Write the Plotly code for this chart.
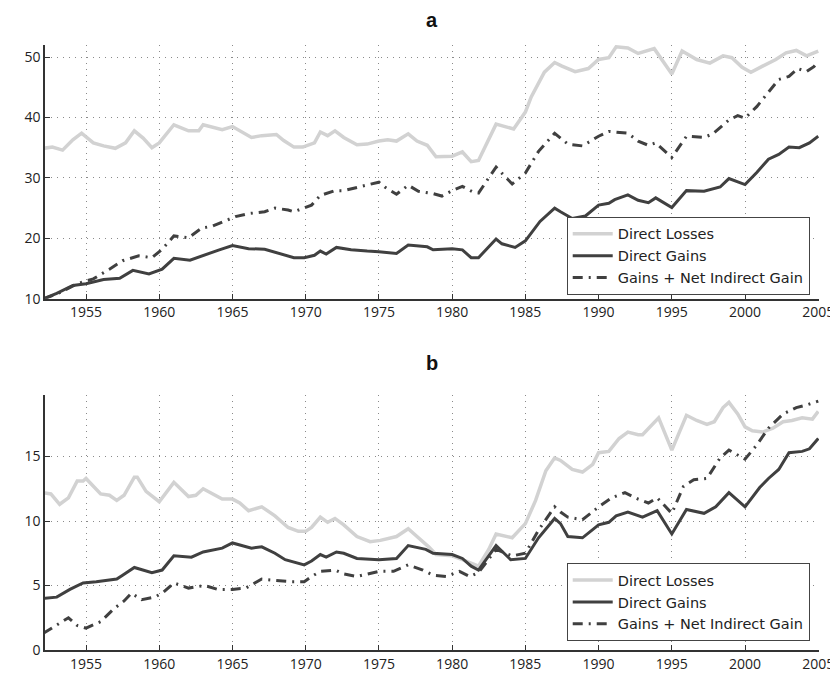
import plotly.graph_objects as go

# ---------------- Panel a ----------------
a_loss_years = [1952.1, 1952.7, 1953.4, 1954.1, 1954.7, 1955.5, 1956.2, 1957.0, 1957.7, 1958.3, 1958.9, 1959.5,
                1960.0, 1961.0, 1962.0, 1962.7, 1963.0, 1964.3, 1965.0, 1965.6, 1966.3, 1967.0, 1968.0, 1968.5,
                1969.2, 1969.8, 1970.6, 1971.0, 1971.5, 1972.0, 1972.6, 1973.5, 1974.2, 1975.0, 1975.6, 1976.2,
                1977.0, 1977.6, 1978.3, 1978.9, 1980.0, 1980.7, 1981.3, 1981.8, 1983.0, 1984.2, 1985.0, 1985.4,
                1986.3, 1987.0, 1987.5, 1988.4, 1989.3, 1990.0, 1990.7, 1991.2, 1992.0, 1992.7, 1993.8, 1995.0,
                1995.7, 1996.7, 1997.6, 1998.5, 1999.1, 1999.8, 2000.4, 2001.2, 2002.1, 2002.8, 2003.5, 2004.2,
                2005.0]
a_loss = [34.9, 35.1, 34.6, 36.3, 37.4, 35.8, 35.3, 34.9, 35.8, 37.8, 36.6, 35.0,
          35.8, 38.8, 37.8, 37.8, 38.8, 38.0, 38.5, 37.7, 36.7, 37.0, 37.2, 36.2,
          35.1, 35.1, 35.8, 37.6, 37.0, 37.8, 36.7, 35.5, 35.6, 36.1, 36.3, 36.1,
          37.3, 36.1, 35.4, 33.5, 33.6, 34.3, 32.7, 32.9, 38.9, 38.1, 40.9, 43.4,
          47.5, 49.1, 48.5, 47.6, 48.1, 49.6, 49.9, 51.7, 51.5, 50.6, 51.4, 47.2,
          51.0, 49.6, 49.0, 50.2, 49.9, 48.3, 47.5, 48.5, 49.6, 50.7, 51.1, 50.2,
          51.0]

a_gain_years = [1952.1, 1953.0, 1954.1, 1955.0, 1956.2, 1957.3, 1958.2, 1959.3, 1960.2, 1961.0, 1962.1, 1963.2,
                1964.1, 1965.0, 1966.1, 1967.2, 1968.3, 1969.2, 1969.9, 1970.6, 1971.0, 1971.4, 1972.1, 1973.1,
                1974.2, 1975.0, 1976.2, 1977.0, 1978.3, 1978.7, 1980.0, 1980.7, 1981.3, 1981.8, 1983.0, 1983.4,
                1984.3, 1985.0, 1986.0, 1987.0, 1987.4, 1988.2, 1989.1, 1990.0, 1990.7, 1991.1, 1992.0, 1992.7,
                1993.4, 1993.9, 1995.0, 1996.0, 1997.2, 1998.3, 1998.9, 2000.0, 2000.8, 2001.6, 2002.3, 2003.0,
                2003.7, 2004.4, 2005.0]
a_gain = [10.0, 10.9, 12.2, 12.5, 13.2, 13.4, 14.7, 14.1, 14.9, 16.7, 16.4, 17.4,
          18.1, 18.8, 18.3, 18.2, 17.4, 16.8, 16.8, 17.2, 17.9, 17.4, 18.5, 18.1,
          17.9, 17.8, 17.5, 18.9, 18.6, 18.1, 18.3, 18.1, 16.8, 16.8, 19.9, 19.1,
          18.5, 19.6, 22.8, 25.0, 24.4, 23.3, 23.7, 25.5, 25.8, 26.4, 27.2, 26.3,
          25.9, 26.7, 25.1, 27.9, 27.8, 28.5, 29.9, 28.9, 30.9, 33.1, 33.9, 35.1,
          35.0, 35.8, 36.9]

a_net_years = [1952.1, 1953.2, 1954.4, 1955.5, 1956.6, 1957.5, 1958.6, 1959.5, 1960.2, 1961.0, 1962.0, 1962.9,
               1963.6, 1964.4, 1965.2, 1966.1, 1967.2, 1967.9, 1968.8, 1969.2, 1969.9, 1970.4, 1971.0, 1972.0,
               1972.6, 1973.6, 1975.0, 1975.4, 1976.2, 1977.0, 1977.7, 1978.7, 1979.3, 1980.0, 1980.7, 1981.4,
               1981.8, 1983.0, 1984.1, 1985.0, 1985.9, 1987.0, 1987.4, 1987.9, 1988.9, 1990.0, 1990.7, 1991.4,
               1992.0, 1992.7, 1993.4, 1993.9, 1995.0, 1996.0, 1997.2, 1997.8, 1998.9, 1999.5, 2000.0, 2000.8,
               2001.6, 2002.3, 2003.0, 2003.6, 2004.2, 2004.7, 2005.0]
a_net = [10.0, 11.0, 12.5, 13.3, 14.9, 16.3, 17.1, 16.8, 18.2, 20.4, 20.1, 21.7,
         22.0, 22.8, 23.6, 24.1, 24.4, 25.0, 24.7, 24.4, 25.0, 25.5, 27.1, 27.9,
         27.9, 28.5, 29.3, 28.5, 27.3, 28.8, 27.8, 27.4, 27.0, 27.9, 28.6, 27.7,
         27.5, 31.8, 29.0, 30.8, 34.4, 37.4, 36.6, 35.6, 35.3, 36.9, 37.7, 37.6,
         37.4, 36.1, 35.4, 35.8, 33.4, 36.9, 36.7, 37.3, 39.6, 40.3, 39.9, 41.8,
         44.2, 46.3, 46.8, 48.1, 47.6, 48.4, 49.3]

# ---------------- Panel b ----------------
b_loss_years = [1952.1, 1952.6, 1953.2, 1953.8, 1954.4, 1954.8, 1955.0, 1956.0, 1956.6, 1957.1, 1957.6, 1958.3,
                1958.5, 1959.1, 1960.0, 1961.0, 1962.0, 1962.5, 1963.0, 1964.3, 1965.0, 1965.5, 1966.1, 1967.0,
                1967.9, 1968.8, 1969.5, 1970.0, 1970.4, 1971.0, 1971.5, 1972.0, 1972.6, 1973.5, 1974.4, 1975.1,
                1976.2, 1977.0, 1977.6, 1978.4, 1978.9, 1980.0, 1980.7, 1981.4, 1981.8, 1982.5, 1983.0, 1984.1,
                1985.0, 1985.7, 1986.4, 1987.0, 1987.4, 1988.2, 1988.9, 1989.6, 1990.0, 1990.7, 1991.4, 1992.0,
                1992.7, 1993.0, 1994.1, 1995.0, 1996.0, 1996.7, 1997.4, 1997.9, 1998.5, 1998.9, 1999.5, 2000.0,
                2000.5, 2001.2, 2001.9, 2002.6, 2003.2, 2003.9, 2004.6, 2005.0]
b_loss = [12.2, 12.1, 11.3, 11.8, 13.1, 13.1, 13.3, 12.1, 12.0, 11.6, 12.0, 13.4,
          13.4, 12.3, 11.5, 13.0, 11.9, 12.0, 12.5, 11.7, 11.7, 11.4, 10.8, 11.1,
          10.4, 9.5, 9.2, 9.2, 9.5, 10.3, 9.9, 10.2, 9.7, 8.8, 8.4, 8.5,
          8.8, 9.4, 8.8, 8.0, 7.4, 7.3, 7.0, 6.7, 6.5, 7.8, 9.0, 8.7,
          9.8, 11.6, 13.9, 14.9, 14.7, 14.0, 13.8, 14.4, 15.3, 15.4, 16.4, 16.9,
          16.7, 16.7, 18.0, 15.5, 18.2, 17.8, 17.5, 17.7, 18.8, 19.2, 18.3, 17.3,
          17.0, 16.9, 17.2, 17.7, 17.8, 18.0, 17.9, 18.5]

b_gain_years = [1952.1, 1953.0, 1953.9, 1954.8, 1955.7, 1957.1, 1957.5, 1958.3, 1959.5, 1960.2, 1961.0, 1962.2,
                1963.0, 1964.3, 1965.0, 1965.6, 1966.3, 1967.0, 1967.9, 1968.6, 1969.2, 1969.9, 1970.4, 1971.0,
                1971.4, 1972.1, 1972.6, 1973.5, 1975.0, 1976.2, 1977.0, 1978.2, 1978.7, 1980.0, 1980.7, 1981.3,
                1981.8, 1983.0, 1984.0, 1985.0, 1985.9, 1987.0, 1987.4, 1987.9, 1988.9, 1990.0, 1990.7, 1991.2,
                1992.0, 1993.0, 1994.0, 1995.0, 1996.0, 1997.2, 1998.0, 1998.9, 2000.0, 2001.0, 2001.6, 2002.3,
                2003.0, 2003.9, 2004.4, 2005.0]
b_gain = [4.0, 4.1, 4.7, 5.2, 5.3, 5.5, 5.8, 6.4, 6.0, 6.2, 7.3, 7.2,
          7.6, 7.9, 8.3, 8.1, 7.9, 8.0, 7.5, 7.0, 6.8, 6.6, 6.9, 7.4,
          7.2, 7.6, 7.5, 7.1, 7.0, 7.1, 8.1, 7.8, 7.5, 7.4, 7.1, 6.5,
          6.2, 8.1, 7.0, 7.1, 8.7, 10.2, 9.8, 8.8, 8.7, 9.7, 9.9, 10.4,
          10.7, 10.3, 10.8, 9.0, 10.9, 10.6, 11.1, 12.2, 11.1, 12.6, 13.3, 14.0,
          15.3, 15.4, 15.6, 16.4]

b_net_years = [1952.1, 1953.0, 1953.8, 1954.4, 1955.0, 1956.0, 1956.9, 1957.6, 1958.1, 1958.8, 1959.7, 1960.3,
               1961.0, 1962.0, 1963.1, 1964.0, 1965.0, 1965.9, 1967.0, 1967.9, 1969.0, 1969.9, 1970.4, 1971.0,
               1972.0, 1972.6, 1973.5, 1975.0, 1976.0, 1977.0, 1978.0, 1978.7, 1979.6, 1980.5, 1981.2, 1981.8,
               1983.0, 1984.1, 1985.0, 1985.9, 1987.0, 1987.4, 1987.9, 1988.9, 1990.0, 1990.9, 1991.8, 1992.7,
               1993.4, 1994.0, 1995.0, 1995.8, 1996.5, 1997.4, 1998.3, 1998.9, 2000.0, 2000.8, 2001.6, 2002.6,
               2003.5, 2004.2, 2005.0]
b_net = [1.3, 1.9, 2.5, 1.9, 1.7, 2.2, 3.2, 3.8, 4.4, 3.9, 4.1, 4.5,
         5.2, 4.8, 5.0, 4.7, 4.7, 4.8, 5.5, 5.4, 5.3, 5.3, 5.7, 6.1,
         6.2, 5.9, 5.7, 6.1, 6.1, 6.6, 6.2, 5.8, 5.7, 6.1, 5.7, 6.0,
         7.8, 7.3, 7.5, 9.3, 11.1, 10.7, 10.3, 10.1, 11.1, 11.8, 12.2, 11.7,
         11.4, 11.8, 10.6, 12.7, 13.2, 13.3, 14.9, 15.5, 14.8, 15.9, 17.2, 18.3,
         18.8, 19.0, 19.3]

x_ticks = [1955, 1960, 1965, 1970, 1975, 1980, 1985, 1990, 1995, 2000, 2005]
a_ticks = [10, 20, 30, 40, 50]
b_ticks = [0, 5, 10, 15]

names = ["Direct Losses", "Direct Gains", "Gains + Net Indirect Gain"]

LIGHT = "#d2d2d2"
DARK = "#404040"
FONT = "Open Sans, Arial, sans-serif"
LEG_FONT = "DejaVu Sans, Open Sans, sans-serif"

fig = go.Figure()

def add_panel(xa, ya, legend, loss_x, loss_y, gain_x, gain_y, net_x, net_y):
    fig.add_trace(go.Scatter(x=loss_x, y=loss_y, mode="lines", name=names[0],
                             line=dict(color=LIGHT, width=3.5), xaxis=xa, yaxis=ya, legend=legend))
    fig.add_trace(go.Scatter(x=gain_x, y=gain_y, mode="lines", name=names[1],
                             line=dict(color=DARK, width=3), xaxis=xa, yaxis=ya, legend=legend))
    fig.add_trace(go.Scatter(x=net_x, y=net_y, mode="lines", name=names[2],
                             line=dict(color=DARK, width=3, dash="10px,6px,2px,6px"),
                             xaxis=xa, yaxis=ya, legend=legend))

add_panel("x", "y", "legend", a_loss_years, a_loss, a_gain_years, a_gain, a_net_years, a_net)
add_panel("x2", "y2", "legend2", b_loss_years, b_loss, b_gain_years, b_gain, b_net_years, b_net)

axis_common = dict(showline=True, linecolor="#333333", linewidth=1.5, mirror=False,
                   ticks="inside", ticklen=5, tickcolor="#333333", tickwidth=1,
                   showgrid=True, gridcolor="#8a8a8a", griddash="1px,5px", gridwidth=1,
                   zeroline=False, tickfont=dict(family=FONT, size=14, color="#222222"))

xrange = [1952.2, 2005.05]

legend_common = dict(xanchor="right", yanchor="bottom",
                     bgcolor="white", bordercolor="#444444", borderwidth=1,
                     font=dict(family=LEG_FONT, size=14.5, color="#222222"), tracegroupgap=0,
                     itemwidth=40)

fig.update_layout(
    width=838, height=677,
    margin=dict(l=37, r=21, t=37, b=25),
    plot_bgcolor="white", paper_bgcolor="white",
    font=dict(family=FONT, color="#222222"),
    xaxis=dict(domain=[0, 1], anchor="y", range=xrange, tickvals=x_ticks, **axis_common),
    yaxis=dict(domain=[0.5805, 1], anchor="x", range=[10, 52], tickvals=a_ticks, **axis_common),
    xaxis2=dict(domain=[0, 1], anchor="y2", range=xrange, tickvals=x_ticks, **axis_common),
    yaxis2=dict(domain=[0, 0.421], anchor="x2", range=[0, 19.75], tickvals=b_ticks, **axis_common),
    legend=dict(x=0.988, y=0.587, **legend_common),
    legend2=dict(x=0.988, y=0.0146, **legend_common),
)

plot_w = 838 - 37 - 21
plot_h = 677 - 37 - 25
for label, px_x, px_y in [("a", 427, 12), ("b", 427, 360)]:
    fig.add_annotation(text="<b>%s</b>" % label, xref="paper", yref="paper",
                       x=(px_x - 37) / plot_w, y=(677 - 25 - px_y) / plot_h,
                       xanchor="center", yanchor="middle", showarrow=False,
                       font=dict(family="Liberation Sans, Arial, sans-serif", size=20, color="#111111"))

fig.write_html("out.html")
